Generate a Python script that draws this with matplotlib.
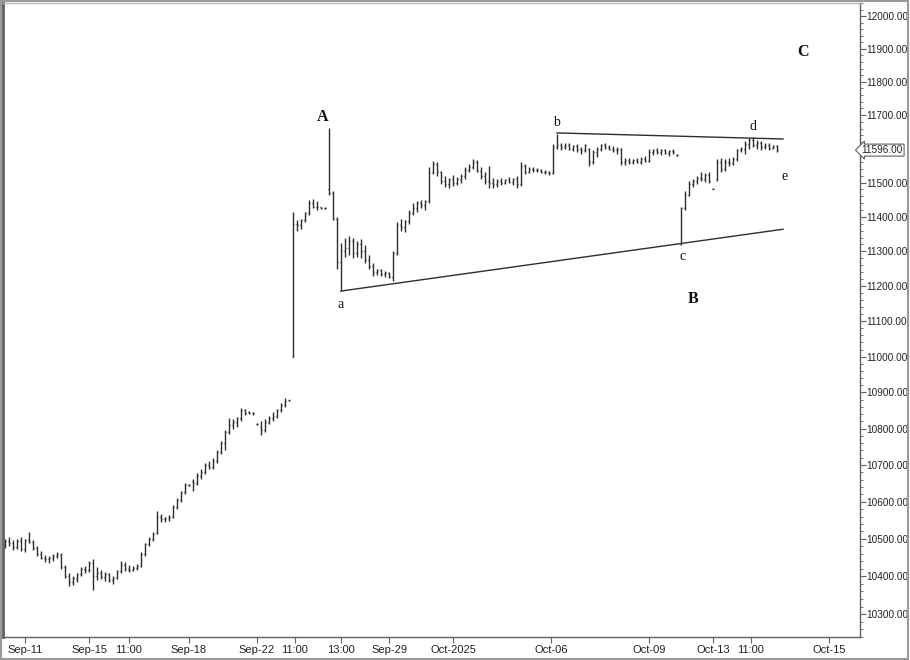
import matplotlib
matplotlib.use("Agg")
import matplotlib.pyplot as plt
import matplotlib.patches as mpatches
import matplotlib.transforms as mtransforms
from matplotlib.ticker import FixedLocator, NullFormatter
import numpy as np

# ── Data: OHLC bars (open, high, low, close) ─────────────────────────────────

bars_sep11 = [
    (10485, 10500, 10475, 10495), (10495, 10505, 10480, 10488), (10488, 10498, 10470, 10478),
    (10478, 10500, 10472, 10495), (10495, 10505, 10468, 10472), (10472, 10500, 10465, 10496),
    (10496, 10518, 10490, 10492), (10492, 10498, 10470, 10475), (10475, 10480, 10455, 10460),
    (10460, 10468, 10445, 10450), (10450, 10458, 10438, 10445), (10445, 10455, 10435, 10448),
    (10448, 10460, 10440, 10455), (10455, 10465, 10450, 10460), (10458, 10462, 10420, 10425),
    (10425, 10430, 10395, 10400), (10400, 10410, 10375, 10385), (10385, 10400, 10378, 10395),
    (10395, 10410, 10385, 10405), (10405, 10425, 10400, 10420), (10420, 10428, 10410, 10418),
    (10418, 10440, 10412, 10435), (10435, 10445, 10364, 10400), (10400, 10425, 10390, 10410),
    (10410, 10418, 10392, 10398), (10398, 10412, 10388, 10405), (10405, 10410, 10385, 10390),
    (10390, 10402, 10380, 10396), (10396, 10418, 10392, 10415), (10415, 10440, 10410, 10430),
    (10430, 10438, 10415, 10420), (10420, 10430, 10412, 10418), (10418, 10428, 10414, 10422),
    (10422, 10432, 10418, 10428), (10428, 10465, 10425, 10460), (10460, 10490, 10455, 10485),
    (10485, 10505, 10480, 10500), (10500, 10518, 10495, 10512),
]
bars_sep16 = [
    (10515, 10575, 10512, 10560), (10560, 10568, 10545, 10552), (10552, 10560, 10545, 10556),
    (10556, 10565, 10548, 10560), (10560, 10590, 10555, 10585), (10585, 10610, 10580, 10605),
    (10605, 10628, 10600, 10625), (10625, 10650, 10620, 10645), (10645, 10648, 10642, 10645),
    (10655, 10662, 10628, 10650), (10650, 10678, 10645, 10670), (10670, 10690, 10662, 10680),
    (10680, 10705, 10675, 10700), (10700, 10712, 10690, 10695), (10695, 10718, 10690, 10712),
    (10712, 10740, 10705, 10735), (10735, 10765, 10730, 10760), (10760, 10795, 10740, 10790),
    (10790, 10830, 10785, 10810), (10810, 10825, 10800, 10818), (10818, 10832, 10805, 10828),
    (10828, 10858, 10822, 10850), (10850, 10855, 10838, 10842), (10845, 10848, 10840, 10844),
    (10844, 10846, 10838, 10842), (10812, 10815, 10810, 10812), (10805, 10820, 10782, 10795),
    (10795, 10825, 10790, 10818), (10818, 10835, 10812, 10830), (10830, 10845, 10822, 10835),
    (10835, 10855, 10828, 10850), (10850, 10872, 10845, 10865), (10865, 10885, 10860, 10875),
    (10878, 10880, 10876, 10878),
]
bars_sep22 = [
    (11000, 11415, 10998, 11380), (11380, 11392, 11360, 11375), (11375, 11395, 11365, 11390),
    (11390, 11415, 11385, 11410), (11410, 11450, 11405, 11440), (11440, 11452, 11425, 11430),
    (11430, 11445, 11420, 11428), (11428, 11430, 11424, 11426), (11426, 11428, 11422, 11425),
    (11480, 11662, 11465, 11470), (11470, 11475, 11390, 11395), (11395, 11400, 11250, 11270),
    (11270, 11325, 11186, 11300), (11300, 11340, 11285, 11310), (11310, 11345, 11290, 11330),
    (11330, 11340, 11280, 11295), (11295, 11330, 11285, 11320), (11320, 11335, 11280, 11300),
    (11300, 11318, 11265, 11275), (11275, 11290, 11250, 11258), (11258, 11265, 11230, 11240),
    (11240, 11250, 11232, 11245), (11245, 11248, 11228, 11235), (11235, 11242, 11226, 11238),
    (11238, 11240, 11222, 11230), (11225, 11300, 11215, 11295), (11295, 11385, 11290, 11375),
    (11375, 11395, 11360, 11370), (11370, 11392, 11355, 11388), (11388, 11420, 11380, 11410),
    (11410, 11440, 11405, 11425), (11425, 11445, 11415, 11440), (11440, 11450, 11425, 11435),
    (11435, 11450, 11420, 11445),
]
bars_oct01 = [
    (11445, 11545, 11440, 11530), (11530, 11565, 11525, 11555), (11555, 11562, 11520, 11530),
    (11530, 11535, 11495, 11505), (11505, 11520, 11488, 11495), (11495, 11515, 11485, 11510),
    (11510, 11522, 11490, 11500), (11500, 11518, 11492, 11512), (11512, 11525, 11498, 11520),
    (11520, 11545, 11510, 11538), (11538, 11555, 11530, 11545), (11545, 11570, 11540, 11562),
    (11562, 11568, 11530, 11535), (11535, 11545, 11510, 11520), (11520, 11530, 11495, 11505),
    (11505, 11550, 11485, 11500), (11500, 11515, 11485, 11495), (11495, 11510, 11488, 11505),
    (11505, 11515, 11492, 11500), (11500, 11512, 11495, 11508), (11508, 11518, 11498, 11502),
    (11502, 11515, 11492, 11510), (11510, 11520, 11485, 11495), (11495, 11560, 11490, 11548),
    (11548, 11555, 11525, 11530), (11530, 11545, 11528, 11540), (11540, 11545, 11532, 11538),
    (11538, 11542, 11530, 11536), (11536, 11540, 11528, 11532), (11532, 11536, 11525, 11530),
    (11530, 11534, 11522, 11528),
]
bars_oct06 = [
    (11528, 11615, 11525, 11605), (11605, 11645, 11598, 11610), (11610, 11618, 11596, 11605),
    (11605, 11616, 11598, 11612), (11612, 11618, 11595, 11600), (11600, 11612, 11594, 11608),
    (11608, 11615, 11590, 11598), (11598, 11605, 11585, 11595), (11595, 11615, 11590, 11610),
    (11600, 11602, 11548, 11560), (11560, 11595, 11555, 11590), (11590, 11605, 11575, 11598),
    (11598, 11615, 11592, 11610), (11610, 11618, 11600, 11605), (11605, 11612, 11595, 11600),
    (11600, 11608, 11590, 11595), (11595, 11605, 11585, 11600), (11600, 11602, 11552, 11560),
    (11560, 11572, 11552, 11568), (11568, 11572, 11555, 11560), (11560, 11570, 11555, 11566),
    (11566, 11572, 11558, 11562), (11562, 11575, 11556, 11570), (11570, 11578, 11560, 11565),
    (11565, 11598, 11560, 11590), (11590, 11600, 11582, 11595), (11595, 11602, 11585, 11590),
    (11590, 11598, 11582, 11595), (11595, 11600, 11585, 11588), (11588, 11596, 11580, 11592),
    (11592, 11598, 11584, 11590), (11582, 11584, 11580, 11582),
]
bars_oct10 = [
    (11320, 11430, 11318, 11425), (11425, 11475, 11420, 11465), (11465, 11505, 11460, 11495),
    (11495, 11512, 11488, 11505), (11505, 11520, 11495, 11515), (11515, 11530, 11505, 11510),
    (11510, 11528, 11502, 11522), (11522, 11530, 11500, 11505), (11482, 11484, 11480, 11482),
    (11510, 11570, 11505, 11560), (11560, 11572, 11530, 11540), (11540, 11570, 11535, 11562),
    (11562, 11572, 11550, 11558), (11558, 11575, 11552, 11570), (11570, 11600, 11565, 11595),
    (11595, 11605, 11590, 11600), (11600, 11622, 11585, 11615), (11615, 11632, 11598, 11625),
    (11625, 11635, 11605, 11610), (11610, 11625, 11598, 11618), (11618, 11622, 11595, 11605),
    (11605, 11618, 11598, 11612), (11612, 11616, 11596, 11602), (11602, 11612, 11598, 11608),
    (11608, 11610, 11590, 11596),
]

# time axis labels (bar index -> label)
tick_pos = [5, 21, 31, 46, 63, 72.5, 84, 96, 112, 136.5, 161, 177, 186.5, 206]
tick_labels = ["Sep-11", "Sep-15", "11:00", "Sep-18", "Sep-22", "11:00", "13:00",
               "Sep-29", "Oct-2025", "Oct-06", "Oct-09", "Oct-13", "11:00", "Oct-15"]

# triangle boundaries (bar index, price)
upper_x = [138, 194.5]
upper_y = [11647, 11629]
lower_x = [84, 194.5]
lower_y = [11186, 11364]

# wave labels
wave_text = ["A", "a", "b", "c", "d", "e", "B", "C"]
wave_x = [79.3, 84, 137.8, 169.3, 187, 194.8, 172, 199.5]
wave_y = [11694, 11149, 11679, 11284, 11665, 11517, 11163, 11890]
wave_bold = [True, False, False, False, False, False, True, True]

# ── Plot ─────────────────────────────────────────────────────────────────────

BAR_COLOR = "#2e2e2e"
AXIS_COLOR = "#606060"
LABEL_FONT = ["Liberation Sans Narrow", "Liberation Sans"]

bars = bars_sep11 + bars_sep16 + bars_sep22 + bars_oct01 + bars_oct06 + bars_oct10
opens, highs, lows, closes = (np.array(c, dtype=float) for c in zip(*bars))
x = np.arange(len(bars))

fig = plt.figure(figsize=(9.1, 6.6), dpi=100)
ax = fig.add_axes([3 / 910, 23 / 660, 857 / 910, 634 / 660])

w = 0.32
ax.vlines(x, lows, highs, color=BAR_COLOR, linewidth=1.0)
ax.hlines(opens, x - w, x, color=BAR_COLOR, linewidth=1.0)
ax.hlines(closes, x, x + w, color=BAR_COLOR, linewidth=1.0)

ax.plot(upper_x, upper_y, color=BAR_COLOR, linewidth=1.0)
ax.plot(lower_x, lower_y, color=BAR_COLOR, linewidth=1.0)

for t, tx, ty, b in zip(wave_text, wave_x, wave_y, wave_bold):
    ax.text(tx, ty, t, ha="center", va="center", family="Liberation Serif",
            fontsize=11.5 if b else 10, fontweight="bold" if b else "normal",
            color="#111111")

ax.set_yscale("log")
ax.set_ylim(10240, 12040)
ax.set_xlim(-0.5, 213.75)

major = [v for v in range(10300, 12001, 100) if v != 11600]
ax.yaxis.set_major_locator(FixedLocator(major))
ax.yaxis.set_minor_locator(FixedLocator(list(range(10240, 12041, 20))))
ax.yaxis.set_minor_formatter(NullFormatter())
ax.set_yticklabels([f"{v:.2f}" for v in major])
ax.yaxis.tick_right()
ax.tick_params(axis="y", which="major", length=4, width=0.8, color=AXIS_COLOR,
               labelsize=7.2, pad=0.5, labelcolor="#222222")
ax.tick_params(axis="y", which="minor", length=2, width=0.6, color=AXIS_COLOR)
for lbl in ax.get_yticklabels():
    lbl.set_family(LABEL_FONT)

ax.set_xticks(tick_pos)
ax.set_xticklabels(tick_labels)
ax.tick_params(axis="x", length=4, width=0.8, color=AXIS_COLOR, labelsize=8,
               pad=2, labelcolor="#222222")
for lbl in ax.get_xticklabels():
    lbl.set_family(LABEL_FONT)

for side in ["left", "bottom", "right", "top"]:
    ax.spines[side].set_color(AXIS_COLOR)
    ax.spines[side].set_linewidth(1.0)
ax.spines["left"].set_linewidth(2.0)
ax.spines["top"].set_color("#bbbbbb")

# last price marker on the price scale
last = closes[-1]
trans = mtransforms.blended_transform_factory(ax.transAxes, ax.transData)
ax.text(1.002, last, f"{last:.2f}", transform=trans, ha="left", va="center",
        fontsize=7.2, family=LABEL_FONT, color="#222222", clip_on=False,
        bbox=dict(boxstyle="larrow,pad=0.1", fc="white", ec=AXIS_COLOR, lw=0.8))

# window frame
fig.patches.append(mpatches.Rectangle((0.001, 0.002), 0.997, 0.996, transform=fig.transFigure,
                                      fill=False, edgecolor="#9a9a9a", linewidth=1.5))

fig.savefig("out.png", dpi=100)
plt.close(fig)
